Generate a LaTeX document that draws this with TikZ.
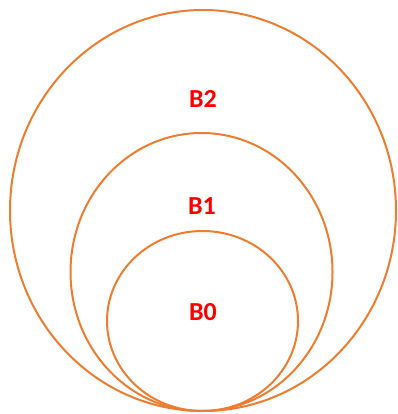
\documentclass[tikz,border=0pt]{standalone}
\usepackage{fontspec}
\setmainfont{Carlito}
\definecolor{ring}{HTML}{ED7D31}
\definecolor{lbl}{HTML}{FF0000}
\begin{document}
\begin{tikzpicture}[x=1pt,y=-1pt,
  ringstyle/.style={draw=ring,line width=2pt},
  lblstyle/.style={text=lbl,font=\fontsize{26}{30}\selectfont\bfseries,inner sep=0pt}]
\useasboundingbox (0,0) rectangle (397,414);
\draw[ringstyle] (203,210.5) ellipse [x radius=193, y radius=200.5];
\draw[ringstyle] (201.5,272) ellipse [x radius=131, y radius=139];
\draw[ringstyle] (202.5,321) ellipse [x radius=95.5, y radius=90];
\node[lblstyle] (b2) at (203,99) {B2};
\node[lblstyle] (b1) at (202,206) {B1};
\node[lblstyle] (b0) at (203,312) {B0};
\end{tikzpicture}
\end{document}
